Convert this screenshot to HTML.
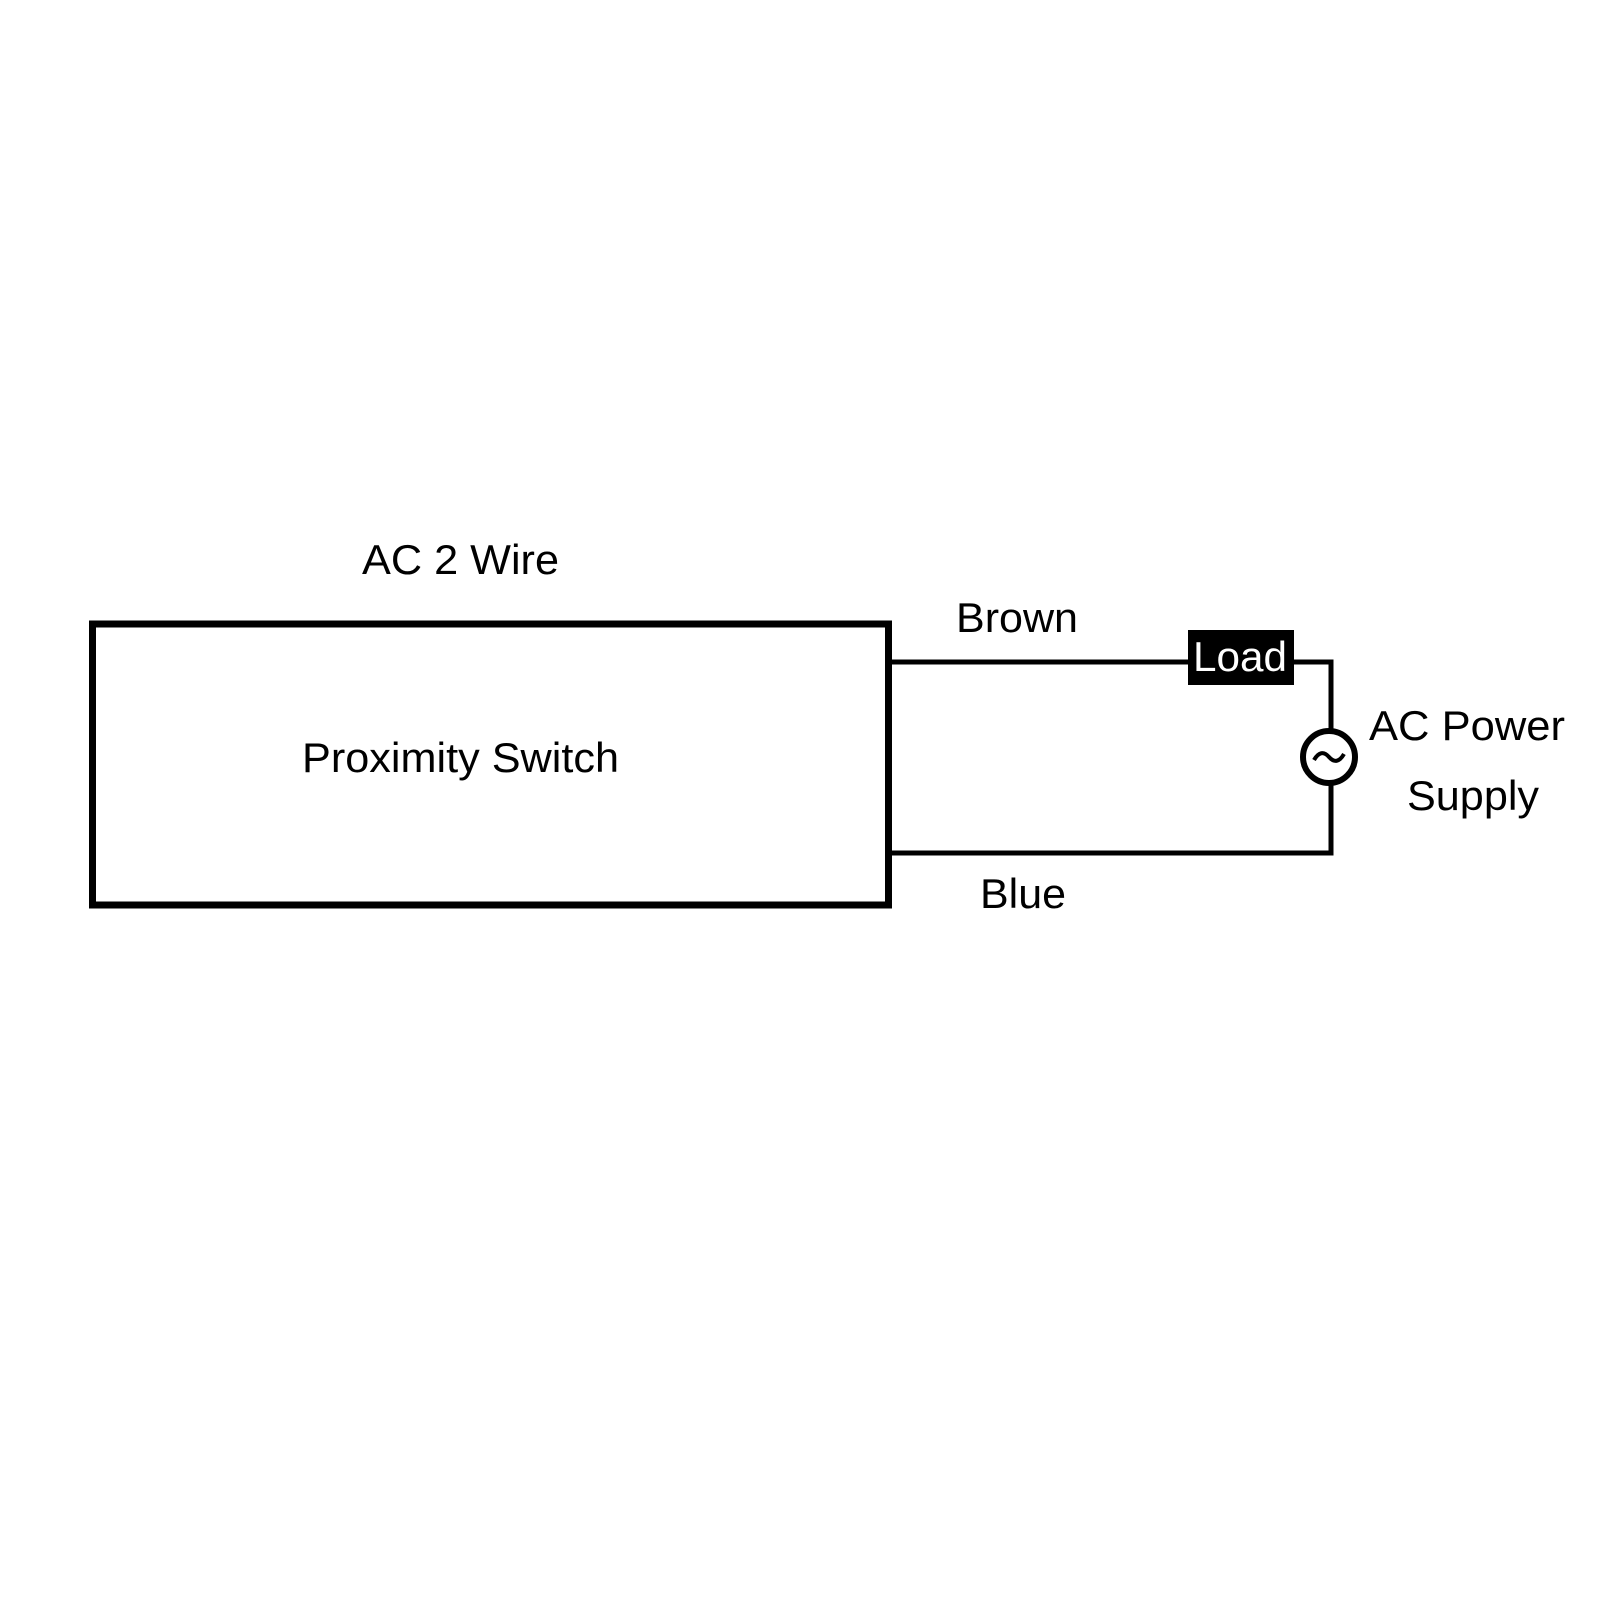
<!DOCTYPE html>
<html><head><meta charset="utf-8"><style>html,body{margin:0;padding:0;background:#fff}</style></head>
<body>
<svg width="1600" height="1600" viewBox="0 0 1600 1600" xmlns="http://www.w3.org/2000/svg" font-family="Liberation Sans, Arial, sans-serif" font-size="42" fill="#000">
<rect x="92.5" y="624" width="796" height="281" fill="none" stroke="#000" stroke-width="7"/>
<polyline points="892,662 1190,662" fill="none" stroke="#000" stroke-width="5"/>
<polyline points="1292,662 1331,662 1331,731" fill="none" stroke="#000" stroke-width="5"/>
<polyline points="1331,785 1331,853 892,853" fill="none" stroke="#000" stroke-width="5"/>
<rect x="1188" y="630" width="106" height="55" fill="#000"/>
<circle cx="1329" cy="757" r="26" fill="#fff" stroke="#000" stroke-width="6"/>
<path d="M1314,760 q7,-12 15,-3 q8,9 15,-3" fill="none" stroke="#000" stroke-width="4"/>
<text x="362" y="574" textLength="197" lengthAdjust="spacingAndGlyphs">AC 2 Wire</text>
<text x="302" y="772" textLength="317" lengthAdjust="spacingAndGlyphs">Proximity Switch</text>
<text x="956" y="632" textLength="122" lengthAdjust="spacingAndGlyphs">Brown</text>
<text x="980" y="908" textLength="86" lengthAdjust="spacingAndGlyphs">Blue</text>
<text x="1193" y="671" fill="#fff" textLength="94" lengthAdjust="spacingAndGlyphs">Load</text>
<text x="1369" y="740" textLength="196" lengthAdjust="spacingAndGlyphs">AC Power</text>
<text x="1407" y="810" textLength="132" lengthAdjust="spacingAndGlyphs">Supply</text>
</svg>
</body></html>
